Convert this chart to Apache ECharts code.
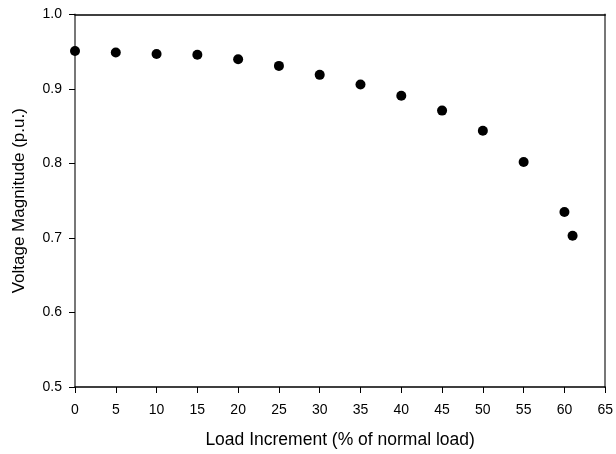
<!DOCTYPE html>
<html>
<head>
<meta charset="utf-8">
<script src="https://cdn.jsdelivr.net/npm/echarts@6/dist/echarts.min.js"></script>
<style>
  html, body { margin: 0; padding: 0; background: #fff; }
  #chart { width: 616px; height: 454px; }
</style>
</head>
<body>
<div id="chart"></div>
<script>
// load increment (% of normal load) and voltage magnitude (p.u.)
const loadIncrement = [0, 5, 10, 15, 20, 25, 30, 35, 40, 45, 50, 55, 60, 61];
const voltage = [0.951, 0.949, 0.947, 0.946, 0.940, 0.931, 0.919, 0.906, 0.891, 0.871, 0.844, 0.802, 0.735, 0.703];

const points = loadIncrement.map((x, i) => [x, voltage[i]]);

const font = 'Liberation Sans, Arial, sans-serif';
const chart = echarts.init(document.getElementById('chart'));

chart.setOption({
    animation: false,
    grid: { left: 75, right: 9, top: 14.5, bottom: 66.5 },
    xAxis: [{
        type: 'value',
        min: 0, max: 65, interval: 5,
        name: 'Load Increment (% of normal load)',
        nameLocation: 'middle',
        nameGap: 44,
        nameTextStyle: { fontFamily: font, fontSize: 17.5, color: '#000' },
        axisLine: { lineStyle: { color: '#000', width: 1.5 } },
        axisTick: { show: true, length: 6, lineStyle: { color: '#000' } },
        axisLabel: { fontFamily: font, fontSize: 14, color: '#000', margin: 16 },
        splitLine: { show: false }
    }, {
        type: 'value',
        position: 'top',
        min: 0, max: 65,
        axisLine: { show: true, onZero: false, lineStyle: { color: '#000', width: 1.5 } },
        axisTick: { show: false },
        axisLabel: { show: false },
        splitLine: { show: false }
    }],
    yAxis: [{
        type: 'value',
        min: 0.5, max: 1.0, interval: 0.1,
        name: 'Voltage Magnitude (p.u.)',
        nameLocation: 'middle',
        nameGap: 47,
        nameTextStyle: { fontFamily: font, fontSize: 17, color: '#000' },
        axisLine: { show: true, lineStyle: { color: '#777', width: 2 } },
        axisTick: { show: true, length: 6, lineStyle: { color: '#000' } },
        axisLabel: {
            fontFamily: font, fontSize: 14, color: '#000', margin: 13,
            formatter: v => v.toFixed(1)
        },
        splitLine: { show: false }
    }, {
        type: 'value',
        position: 'right',
        min: 0.5, max: 1.0,
        axisLine: { show: true, onZero: false, lineStyle: { color: '#777', width: 2 } },
        axisTick: { show: false },
        axisLabel: { show: false },
        splitLine: { show: false }
    }],
    series: [{
        type: 'scatter',
        data: points,
        symbol: 'circle',
        symbolSize: 10,
        itemStyle: { color: '#000', opacity: 1 }
    }]
});
</script>
</body>
</html>
